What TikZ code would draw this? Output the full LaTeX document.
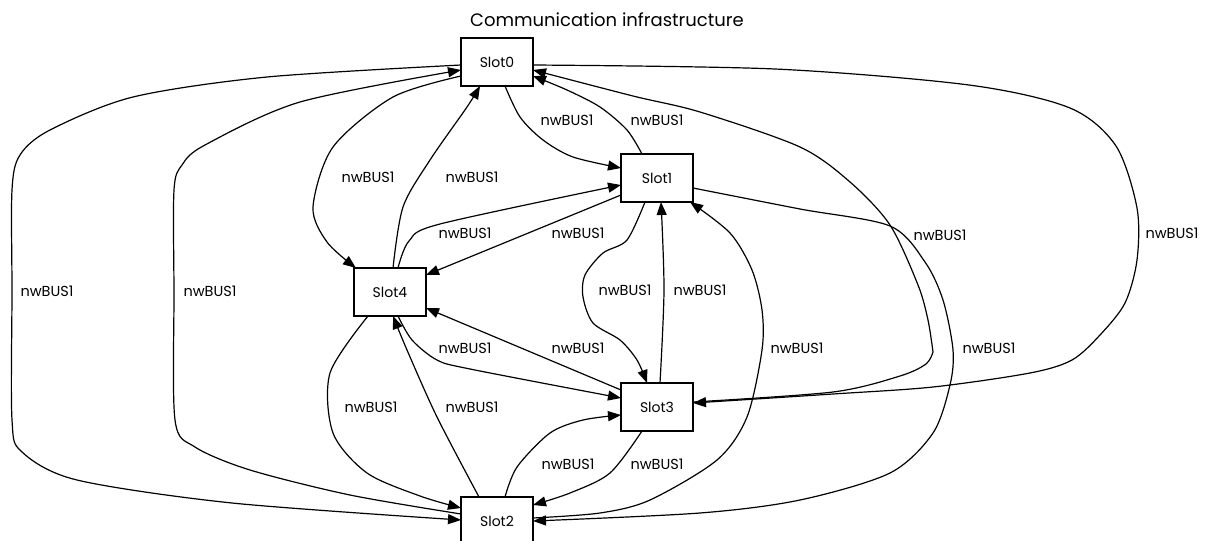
\documentclass[tikz,border=0pt]{standalone}
\usepackage{fontspec}
\setmainfont{Poppins}
\usetikzlibrary{arrows.meta,calc}
\begin{document}
\begin{tikzpicture}[x=1pt,y=-1pt,
  slotbox/.style={draw, line width=1.3pt, minimum width=72pt, minimum height=48pt,
    inner sep=0pt, font=\fontsize{14}{16}\selectfont},
  lbl/.style={inner sep=0pt, font=\fontsize{14.5}{16}\selectfont},
  edge/.style={line width=1.2pt},
  arr/.style={edge, -{Triangle[length=13pt,width=10pt]}}]
\useasboundingbox (0,0) rectangle (1208,541);
\clip (0,0) rectangle (1208,541);

% title
\node[font=\fontsize{18}{20}\selectfont] (title) at (607,20) {Communication infrastructure};

% slots
\node[slotbox] (s0) at (497,62)  {Slot0};
\node[slotbox] (s1) at (657,178) {Slot1};
\node[slotbox] (s4) at (390,292) {Slot4};
\node[slotbox] (s3) at (657,407) {Slot3};
\node[slotbox] (s2) at (497,521) {Slot2};

% Slot0 <-> Slot2 (outer loops on the left)
\draw[arr] plot[smooth] coordinates {($(s0.center)+(-36,3)$) (267,77) (133,97) (50,130) (20,155) (12,190) (12,291) (12,420) (22,452) (77,480) (232,503) ($(s2.center)+(-36,-1)$)};
\draw[arr] plot[smooth] coordinates {($(s2.center)+(-36,-7)$) (350,495) (250,470) (195,447) (175,420) (174,291) (174,190) (182,165) (205,145) (300,102) ($(s0.center)+(-36,8)$)};

% Slot0 <-> Slot4
\draw[arr] plot[smooth] coordinates {($(s0.center)+(-36,14)$) (393,97) (333,147) (313,207) (327,242) ($(s4.center)+(-34,-24)$)};
\draw[arr] plot[smooth] coordinates {($(s4.center)+(3,-24)$) (403,207) (430,160) (467,107) ($(s0.center)+(-17,24)$)};

% Slot0 <-> Slot1
\draw[arr] plot[smooth] coordinates {($(s0.center)+(8,24)$) (520,117) (543,140) (573,157) ($(s1.center)+(-36,-10)$)};
\draw[arr] plot[smooth] coordinates {($(s1.center)+(-15,-24)$) (627,130) (600,107) (567,90) ($(s0.center)+(36,14)$)};

% Slot0 <-> Slot3 (right side)
\draw[arr] plot[smooth] coordinates {($(s0.center)+(36,3)$) (775,69) (969,85) (1070,108) (1116,146) (1137,208) (1137,260) (1125,303) (1100,335) (1072,360) (1030,373) (933,387) (833,394) ($(s3.center)+(36,-4)$)};
\draw[arr] plot[smooth] coordinates {($(s3.center)+(36,-5)$) (833,392) (900,376) (926,364) (933,352)}
  -- plot[smooth] coordinates {(933,352) (928,320) (918,285) (890,225) (850,182) (800,147) (700,112) (633,96) ($(s0.center)+(36,8)$)};

% Slot1 <-> Slot2
\draw[arr] plot[smooth] coordinates {($(s1.center)+(36,10)$) (800,209) (890,226) (925,262) (943,300) (953,350) (950,385) (933,433) (890,473) (800,500) (700,513) ($(s2.center)+(36,0)$)};
\draw[arr] plot[smooth] coordinates {($(s2.center)+(36,-3)$) (600,513) (650,500) (717,460) (747,417) (762,350) (762,310) (752,270) (730,233) ($(s1.center)+(33,24)$)};

% Slot1 <-> Slot4
\draw[arr] plot[smooth] coordinates {($(s4.center)+(8,-24)$) (409,241) (440,224) ($(s1.center)+(-36,7)$)};
\draw[arr] ($(s1.center)+(-36,17)$) -- ($(s4.center)+(36,-17)$);

% Slot1 <-> Slot3
\draw[arr] plot[smooth] coordinates {($(s1.center)+(-12,24)$) (627,240) (603,253) (585,275) (583,297) (593,323) (620,340) (637,360) ($(s3.center)+(-10,-24)$)};
\draw[arr] plot[smooth] coordinates {($(s3.center)+(3,-24)$) (664,290) ($(s1.center)+(4,24)$)};

% Slot4 <-> Slot3
\draw[arr] plot[smooth] coordinates {($(s4.center)+(8,24)$) (412,340) (437,360) (470,369) ($(s3.center)+(-36,-9)$)};
\draw[arr] ($(s3.center)+(-36,-17)$) -- ($(s4.center)+(36,16)$);

% Slot4 <-> Slot2
\draw[arr] plot[smooth] coordinates {($(s4.center)+(-22,24)$) (330,373) (333,433) (367,473) (420,496) ($(s2.center)+(-36,-13)$)};
\draw[arr] plot[smooth] coordinates {($(s2.center)+(-18,-24)$) (437,417) (407,350) ($(s4.center)+(3,24)$)};

% Slot2 <-> Slot3
\draw[arr] plot[smooth] coordinates {($(s2.center)+(8,-24)$) (517,467) (550,433) (583,420) ($(s3.center)+(-36,8)$)};
\draw[arr] plot[smooth] coordinates {($(s3.center)+(-15,24)$) (610,473) (570,493) ($(s2.center)+(36,-16)$)};

% edge labels
\node[lbl] (l1)  at (47,291)   {nwBUS1};
\node[lbl] (l2)  at (210,291)  {nwBUS1};
\node[lbl] (l3)  at (368,177)  {nwBUS1};
\node[lbl] (l4)  at (472,177)  {nwBUS1};
\node[lbl] (l5)  at (567,120)  {nwBUS1};
\node[lbl] (l6)  at (657,120)  {nwBUS1};
\node[lbl] (l7)  at (1172,233) {nwBUS1};
\node[lbl] (l8)  at (940,235)  {nwBUS1};
\node[lbl] (l9)  at (989,348)  {nwBUS1};
\node[lbl] (l10) at (797,348)  {nwBUS1};
\node[lbl] (l11) at (465,233)  {nwBUS1};
\node[lbl] (l12) at (578,233)  {nwBUS1};
\node[lbl] (l13) at (625,290)  {nwBUS1};
\node[lbl] (l14) at (700,290)  {nwBUS1};
\node[lbl] (l15) at (465,348)  {nwBUS1};
\node[lbl] (l16) at (578,348)  {nwBUS1};
\node[lbl] (l17) at (371,407)  {nwBUS1};
\node[lbl] (l18) at (472,407)  {nwBUS1};
\node[lbl] (l19) at (568,464)  {nwBUS1};
\node[lbl] (l20) at (657,464)  {nwBUS1};
\end{tikzpicture}
\end{document}
